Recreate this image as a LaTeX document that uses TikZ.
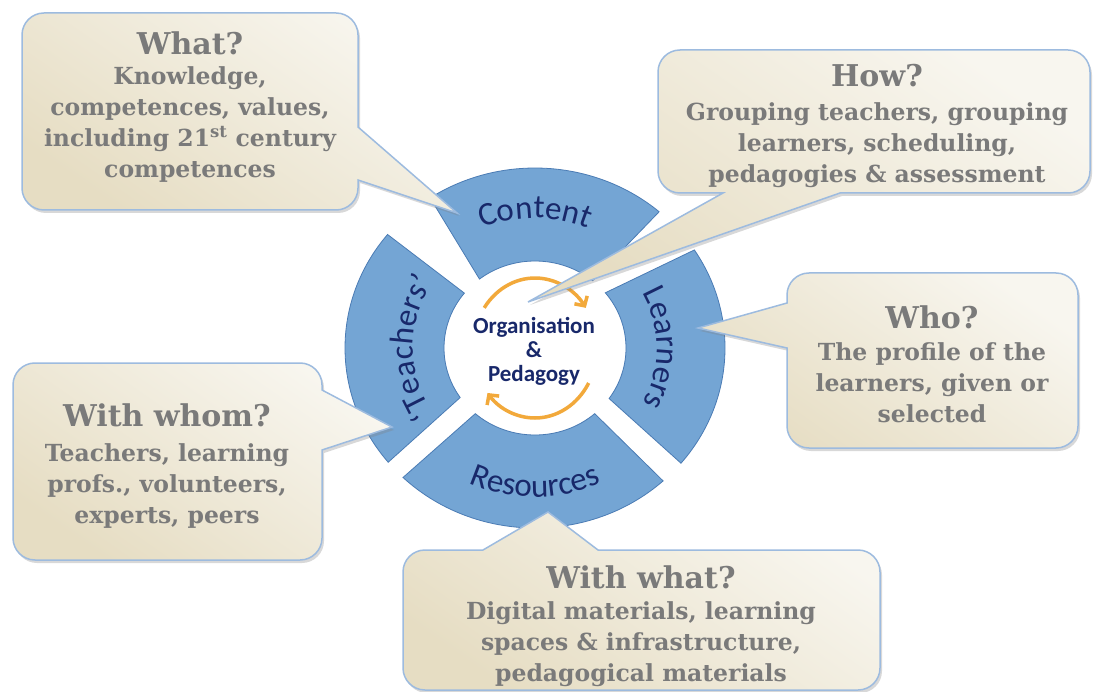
\documentclass[tikz,border=0pt]{standalone}
\usepackage{fontspec}
\setmainfont{DejaVu Serif}
\newfontfamily\wheelfont{Carlito}
\usetikzlibrary{positioning,decorations.text,shadows,arrows.meta}

\definecolor{segblue}{HTML}{74A5D4}
\definecolor{segline}{HTML}{4A7BB4}
\definecolor{navy}{HTML}{18286A}
\definecolor{arroworange}{HTML}{F2A93B}
\definecolor{creamlight}{HTML}{F8F6EF}
\definecolor{creamdark}{HTML}{E6DDC3}
\definecolor{bubbleline}{HTML}{9DBBDF}
\definecolor{askgray}{HTML}{7A7A7A}

\tikzset{
  segment/.style={fill=segblue,draw=segline,line width=0.8pt},
  ringtext/.style={decorate,decoration={text along path,text align=center,
    text color=navy,text={|\wheelfont\fontsize{33}{35}\selectfont|#1}}},
  turnarrow/.style={draw=arroworange,line width=3.5pt,-{Straight Barb[length=7pt,width=15pt]}},
  bubble/.style={draw=bubbleline,line width=1.5pt,top color=creamlight,bottom color=creamdark,
    shading angle=-35,drop shadow={shadow xshift=2pt,shadow yshift=-3pt,opacity=0.3}},
  asktitle/.style={anchor=base,inner sep=0pt,text=askgray,font=\fontsize{30}{32}\selectfont\bfseries},
  askbody/.style={anchor=north,inner sep=0pt,align=center,text=askgray,font=\fontsize{23.5}{31}\selectfont\bfseries}
}

\begin{document}
\begin{tikzpicture}[x=1pt,y=1pt]
\useasboundingbox (0,0) rectangle (1094,-692);
\fill[white] (0,0) rectangle (1094,-692);

% wheel
\begin{scope}[shift={(535,-348)}]
\draw[segment] (50.7:91 and 87) arc[start angle=50.7,end angle=127.6,x radius=91,y radius=87]
  -- (123.5:190 and 180) arc[start angle=123.5,end angle=49.2,x radius=190,y radius=180] -- cycle;
\draw[segment] (140.9:91 and 87) arc[start angle=140.9,end angle=214.7,x radius=91,y radius=87]
  -- (219.4:190 and 180) arc[start angle=219.4,end angle=140.9,x radius=190,y radius=180] -- cycle;
\draw[segment] (229:91 and 87) arc[start angle=229,end angle=311,x radius=91,y radius=87]
  -- (312.4:190 and 180) arc[start angle=312.4,end angle=226,x radius=190,y radius=180] -- cycle;
\draw[segment] (-35.5:91 and 87) arc[start angle=-35.5,end angle=39.4,x radius=91,y radius=87]
  -- (33:190 and 180) arc[start angle=33,end angle=-39.8,x radius=190,y radius=180] -- cycle;

\path[ringtext=Content] (125:136 and 130) arc[start angle=125,end angle=55,x radius=136,y radius=130];
\path[ringtext=Resources] (228:157 and 149) arc[start angle=228,end angle=312,x radius=157,y radius=149];
\path[ringtext=Learners] (44:122 and 116) arc[start angle=44,end angle=-44,x radius=122,y radius=116];
\path[ringtext=‘Teachers’] (224:122 and 116) arc[start angle=224,end angle=136,x radius=122,y radius=116];

\draw[turnarrow] (145:62 and 70) arc[start angle=145,end angle=35,x radius=62,y radius=70];
\draw[turnarrow] (-30:62 and 70) arc[start angle=-30,end angle=-140,x radius=62,y radius=70];
\end{scope}

\node[align=center,text=navy,font=\wheelfont\bfseries\fontsize{23}{24}\selectfont] (orgped) at (534,-351) {Organisation\\\&\\Pedagogy};

% callouts
\coordinate (whatTip) at (457,-213);
\coordinate (howTip) at (528,-302);
\coordinate (whoTip) at (698,-328);
\coordinate (whomTip) at (392,-427);
\coordinate (withTip) at (548,-512);

\path[bubble] (44,-13) -- (336,-13) arc[start angle=90,end angle=0,radius=22]
  -- (358,-127) -- (whatTip) -- (358,-180) -- (358,-188) arc[start angle=0,end angle=-90,radius=22]
  -- (44,-210) arc[start angle=-90,end angle=-180,radius=22]
  -- (22,-35) arc[start angle=180,end angle=90,radius=22] -- cycle;
\path[bubble] (680,-50) -- (1068,-50) arc[start angle=90,end angle=0,radius=22]
  -- (1090,-171) arc[start angle=0,end angle=-90,radius=22]
  -- (840,-193) -- (howTip) -- (723,-193) -- (680,-193) arc[start angle=-90,end angle=-180,radius=22]
  -- (658,-72) arc[start angle=180,end angle=90,radius=22] -- cycle;
\path[bubble] (809,-273) -- (1056,-273) arc[start angle=90,end angle=0,radius=22]
  -- (1078,-426) arc[start angle=0,end angle=-90,radius=22]
  -- (809,-448) arc[start angle=-90,end angle=-180,radius=22]
  -- (787,-348) -- (whoTip) -- (787,-303) -- (787,-295) arc[start angle=180,end angle=90,radius=22] -- cycle;
\path[bubble] (35,-363) -- (300,-363) arc[start angle=90,end angle=0,radius=22]
  -- (322,-390) -- (whomTip) -- (322,-450) -- (322,-538) arc[start angle=0,end angle=-90,radius=22]
  -- (35,-560) arc[start angle=-90,end angle=-180,radius=22]
  -- (13,-385) arc[start angle=180,end angle=90,radius=22] -- cycle;
\path[bubble] (425,-550) -- (483,-550) -- (withTip) -- (598,-550) -- (858,-550) arc[start angle=90,end angle=0,radius=22]
  -- (880,-668) arc[start angle=0,end angle=-90,radius=22]
  -- (425,-690) arc[start angle=-90,end angle=-180,radius=22]
  -- (403,-572) arc[start angle=180,end angle=90,radius=22] -- cycle;

\node[asktitle] (whatTitle) at (190,-55) {What?};
\node[askbody] (whatBody) at (190,-66) {Knowledge,\\competences, values,\\including 21\textsuperscript{st} century\\competences};
\node[asktitle] (howTitle) at (877,-87) {How?};
\node[askbody] (howBody) at (877,-102) {Grouping teachers, grouping\\learners, scheduling,\\pedagogies \& assessment};
\node[asktitle] (whoTitle) at (932,-328) {Who?};
\node[askbody] (whoBody) at (932,-342) {The profile of the\\learners, given or\\selected};
\node[asktitle] (whomTitle) at (167,-426) {With whom?};
\node[askbody] (whomBody) at (167,-443) {Teachers, learning\\profs., volunteers,\\experts, peers};
\node[asktitle] (withTitle) at (641,-588) {With what?};
\node[askbody] (withBody) at (641,-601) {Digital materials, learning\\spaces \& infrastructure,\\pedagogical materials};
\end{tikzpicture}
\end{document}
